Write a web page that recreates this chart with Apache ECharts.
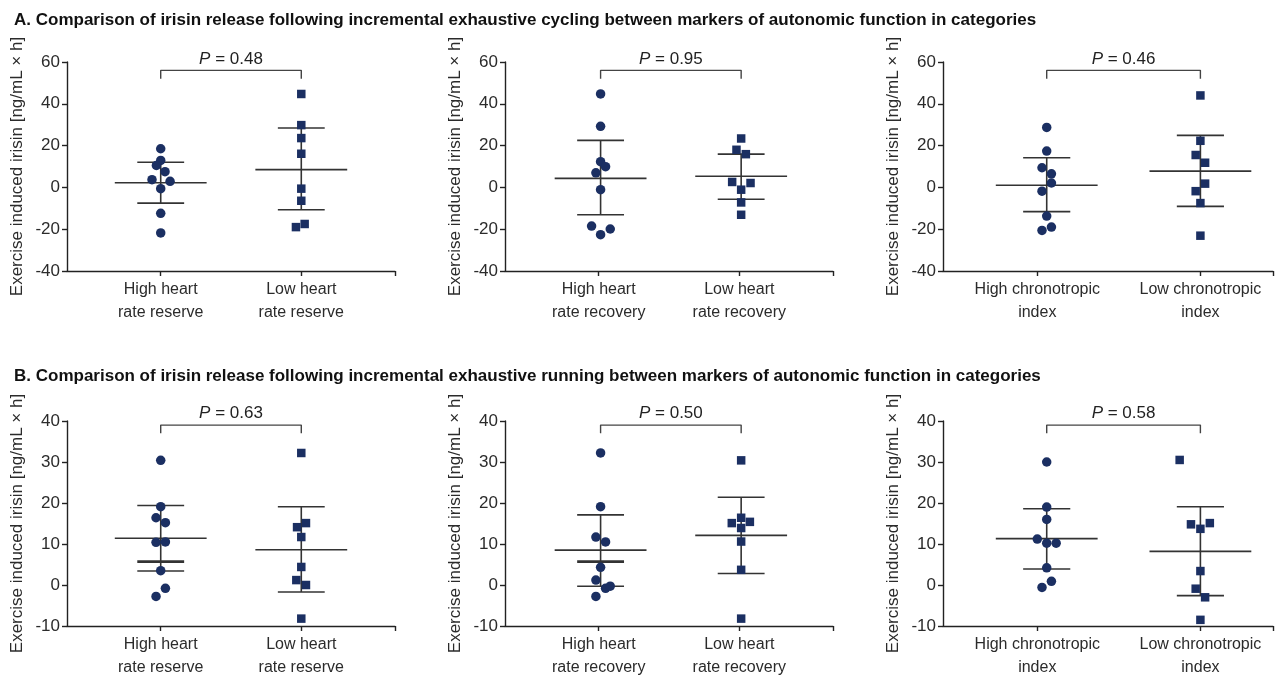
<!DOCTYPE html>
<html>
<head>
<meta charset="utf-8">
<script src="https://cdn.jsdelivr.net/npm/echarts@6/dist/echarts.min.js"></script>
<style>
  html, body { margin: 0; background: #fff; }
  #chart { width: 1276px; height: 679px; }
</style>
</head>
<body>
<div id="chart"></div>
<script>
const FONT = "'Liberation Sans', Arial, sans-serif";
const TEXT = '#2b2b2b';
const DOT = '#1b2f62';
const LINE = '#333';

const titleA = 'A. Comparison of irisin release following incremental exhaustive cycling between markers of autonomic function in categories';
const titleB = 'B. Comparison of irisin release following incremental exhaustive running between markers of autonomic function in categories';
const yName = 'Exercise induced irisin [ng/mL × h]';

const groupNames = [
  ['High heart\nrate reserve', 'Low heart\nrate reserve'],
  ['High heart\nrate recovery', 'Low heart\nrate recovery'],
  ['High chronotropic\nindex', 'Low chronotropic\nindex']
];
const pValuesA = ['0.48', '0.95', '0.46'];
const pValuesB = ['0.63', '0.50', '0.58'];

const yTicksA = [-40, -20, 0, 20, 40, 60];
const yTicksB = [-10, 0, 10, 20, 30, 40];

// A: cycling
const a1High = [18.5, 12.9, 10.5, 7.5, 3.7, 2.9, -0.6, -12.4, -21.8];
const a1HighDx = [0, 0, -0.046, 0.046, -0.093, 0.1, 0, 0, 0];
const a1Low = [44.7, 29.8, 23.6, 16.1, -0.6, -6.4, -19.0, -17.5];
const a1LowDx = [0, 0, 0, 0, 0, 0, -0.057, 0.036];
const a2High = [44.7, 29.2, 12.3, 9.9, 7.0, -1.1, -18.5, -19.9, -22.6];
const a2HighDx = [0, 0, 0, 0.053, -0.05, 0, -0.096, 0.103, 0];
const a2Low = [23.4, 18.0, 15.9, 2.6, 2.1, -1.1, -7.2, -13.1];
const a2LowDx = [0, -0.05, 0.05, -0.096, 0.1, 0, 0, 0];
const a3High = [28.7, 17.4, 9.4, 6.5, 2.1, -1.8, -13.7, -20.6, -19.0];
const a3HighDx = [0, 0, -0.05, 0.05, 0.05, -0.05, 0, -0.05, 0.05];
const a3Low = [44.0, 22.3, 15.5, 11.8, 1.8, -1.8, -7.5, -23.1];
const a3LowDx = [0, 0, -0.05, 0.05, 0.05, -0.05, 0, 0];

// B: running
const b1High = [30.4, 19.1, 16.4, 15.2, 10.4, 10.5, 3.5, -0.8, -2.8];
const b1HighDx = [0, 0, -0.05, 0.05, -0.05, 0.05, 0, 0.05, -0.05];
const b1Low = [32.2, 14.1, 15.1, 11.7, 4.4, 1.2, 0, -8.2];
const b1LowDx = [0, -0.045, 0.05, 0, 0, -0.053, 0.05, 0];
const b2High = [32.2, 19.1, 11.7, 10.5, 4.3, 1.2, -0.8, -0.3, -2.8];
const b2HighDx = [0, 0, -0.05, 0.053, 0, -0.05, 0.053, 0.103, -0.05];
const b2Low = [30.4, 16.4, 15.1, 15.4, 13.9, 10.6, 3.7, -8.2];
const b2LowDx = [0, 0, -0.1, 0.093, 0, 0, 0, 0];
const b3High = [30.0, 19.0, 16.0, 11.2, 10.2, 10.2, 4.2, 0.9, -0.6];
const b3HighDx = [0, 0, 0, -0.1, 0, 0.1, 0, 0.05, -0.05];
const b3Low = [30.5, 14.8, 15.1, 13.7, 3.4, -0.9, -3.0, -8.5];
const b3LowDx = [-0.22, -0.1, 0.1, 0, 0, -0.05, 0.05, 0];

// mean, lower, upper
const statsA1 = [[2.2, -7.5, 12.0], [8.5, -10.7, 28.4]];
const statsA2 = [[4.3, -13.1, 22.5], [5.3, -5.7, 15.9]];
const statsA3 = [[1.0, -11.6, 14.2], [7.8, -9.1, 24.9]];
const statsB1 = [[11.4, 3.4, 19.4], [8.6, -1.7, 19.1]];
const statsB2 = [[8.5, -0.3, 17.1], [12.1, 2.8, 21.4]];
const statsB3 = [[11.3, 3.9, 18.6], [8.2, -2.6, 19.1]];
// the extra short bar drawn in some high groups
const extraB = [5.7, 5.7, null];

const bracketA = [52, 56];
const bracketB = [37, 39];

// layout
const cols = [
  { left: 67, width: 328, ticks: [1, 2.5], centers: [1.0, 2.5], meanHalf: 0.49 },
  { left: 505, width: 328, ticks: [1, 2.5], centers: [1.02, 2.52], meanHalf: 0.49 },
  { left: 943, width: 330, ticks: [1, 2.73], centers: [1.1, 2.73], meanHalf: 0.54 }
];
const rows = [{ top: 62, height: 209 }, { top: 421, height: 206 }];
const CAP = 0.25;

const panels = [
  { row: 0, col: 0, hi: a1High, hiDx: a1HighDx, lo: a1Low, loDx: a1LowDx, stats: statsA1, p: pValuesA[0], yt: yTicksA, br: bracketA },
  { row: 0, col: 1, hi: a2High, hiDx: a2HighDx, lo: a2Low, loDx: a2LowDx, stats: statsA2, p: pValuesA[1], yt: yTicksA, br: bracketA },
  { row: 0, col: 2, hi: a3High, hiDx: a3HighDx, lo: a3Low, loDx: a3LowDx, stats: statsA3, p: pValuesA[2], yt: yTicksA, br: bracketA },
  { row: 1, col: 0, hi: b1High, hiDx: b1HighDx, lo: b1Low, loDx: b1LowDx, stats: statsB1, p: pValuesB[0], yt: yTicksB, br: bracketB, extra: extraB[0] },
  { row: 1, col: 1, hi: b2High, hiDx: b2HighDx, lo: b2Low, loDx: b2LowDx, stats: statsB2, p: pValuesB[1], yt: yTicksB, br: bracketB, extra: extraB[1] },
  { row: 1, col: 2, hi: b3High, hiDx: b3HighDx, lo: b3Low, loDx: b3LowDx, stats: statsB3, p: pValuesB[2], yt: yTicksB, br: bracketB, extra: extraB[2] }
];

function errorBars(meanHalf) {
  return function (params, api) {
    const x = api.value(0), mean = api.value(1), lo = api.value(2), hi = api.value(3), extra = api.value(4);
    const seg = (x1, y1, x2, y2, w) => {
      const a = api.coord([x1, y1]), b = api.coord([x2, y2]);
      return { type: 'line', shape: { x1: a[0], y1: a[1], x2: b[0], y2: b[1] }, style: { stroke: LINE, lineWidth: w } };
    };
    const children = [
      seg(x, lo, x, hi, 1.6),
      seg(x - meanHalf, mean, x + meanHalf, mean, 1.6),
      seg(x - CAP, hi, x + CAP, hi, 1.6),
      seg(x - CAP, lo, x + CAP, lo, 1.6)
    ];
    if (!isNaN(extra)) children.push(seg(x - CAP, extra, x + CAP, extra, 2.6));
    return { type: 'group', children };
  };
}

const grid = [], xAxis = [], yAxis = [], series = [];

panels.forEach((p, i) => {
  const c = cols[p.col], r = rows[p.row];
  grid.push({ left: c.left, top: r.top, width: c.width, height: r.height });
  const names = groupNames[p.col];
  xAxis.push({
    type: 'value', gridIndex: i, min: 0, max: 3.5,
    splitLine: { show: false },
    axisLine: { onZero: false, lineStyle: { color: '#222', width: 1.4 } },
    axisTick: { customValues: c.ticks.concat([3.5]), length: 5, lineStyle: { color: '#222', width: 1.4 } },
    axisLabel: {
      customValues: c.ticks,
      formatter: v => (v < 1.8 ? names[0] : names[1]),
      color: TEXT, fontSize: 16, fontFamily: FONT, lineHeight: 23, margin: 7
    }
  });
  yAxis.push({
    type: 'value', gridIndex: i,
    min: p.yt[0], max: p.yt[p.yt.length - 1], interval: p.yt[1] - p.yt[0],
    name: yName, nameLocation: 'middle', nameGap: 41,
    nameTextStyle: { color: TEXT, fontSize: 17, fontFamily: FONT },
    splitLine: { show: false },
    axisLine: { show: true, onZero: false, lineStyle: { color: '#222', width: 1.4 } },
    axisTick: { show: true, length: 5, lineStyle: { color: '#222', width: 1.4 } },
    axisLabel: { color: TEXT, fontSize: 17, fontFamily: FONT, margin: 7 }
  });

  series.push({
    type: 'custom', xAxisIndex: i, yAxisIndex: i, silent: true, z: 2,
    renderItem: errorBars(c.meanHalf),
    data: p.stats.map((s, k) => [c.centers[k], s[0], s[1], s[2], k === 0 && p.extra != null ? p.extra : NaN])
  });
  series.push({
    type: 'scatter', xAxisIndex: i, yAxisIndex: i, symbol: 'circle', symbolSize: 9.5, z: 3,
    itemStyle: { color: DOT, opacity: 1 },
    data: p.hi.map((v, k) => [c.centers[0] + p.hiDx[k], v])
  });
  series.push({
    type: 'scatter', xAxisIndex: i, yAxisIndex: i, symbol: 'rect', symbolSize: 8.5, z: 3,
    itemStyle: { color: DOT, opacity: 1 },
    data: p.lo.map((v, k) => [c.centers[1] + p.loDx[k], v])
  });
  const x1 = c.centers[0], x2 = c.centers[1];
  series.push({
    type: 'line', xAxisIndex: i, yAxisIndex: i, silent: true, symbol: 'none',
    lineStyle: { color: '#444', width: 1.4 },
    data: [[x1, p.br[0]], [x1, p.br[1]], [x2, p.br[1]], [x2, p.br[0]]]
  });
  series.push({
    type: 'scatter', xAxisIndex: i, yAxisIndex: i, silent: true, symbolSize: 0,
    itemStyle: { opacity: 1 },
    data: [[(x1 + x2) / 2, p.br[1]]],
    label: {
      show: true, position: 'top', distance: 3,
      formatter: '{i|P} = ' + p.p,
      color: '#222', fontSize: 17, fontFamily: FONT,
      rich: { i: { fontStyle: 'italic', color: '#222', fontSize: 17, fontFamily: FONT } }
    }
  });
});

const chart = echarts.init(document.getElementById('chart'));
chart.setOption({
  backgroundColor: '#fff',
  animation: false,
  title: [
    { text: titleA, left: 9, top: 7, textStyle: { fontSize: 17, fontWeight: 'bold', color: '#111', fontFamily: FONT } },
    { text: titleB, left: 9, top: 363, textStyle: { fontSize: 17, fontWeight: 'bold', color: '#111', fontFamily: FONT } }
  ],
  grid, xAxis, yAxis, series
});
</script>
</body>
</html>
